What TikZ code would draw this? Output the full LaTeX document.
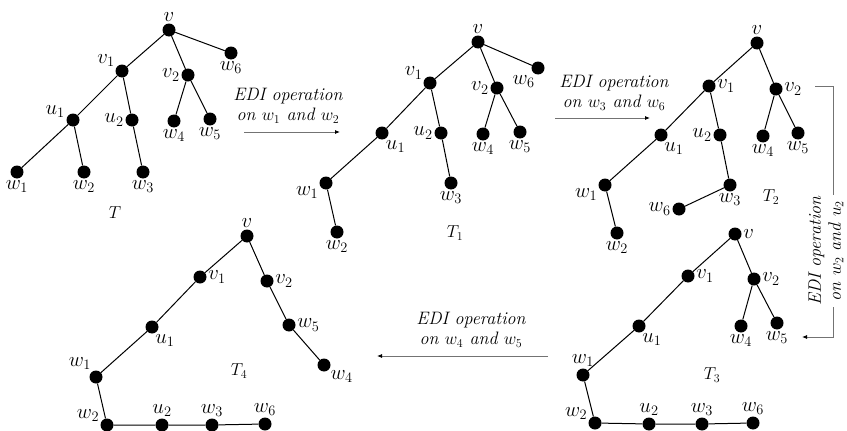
\documentclass[tikz,border=0pt]{standalone}
\usetikzlibrary{arrows.meta}

\begin{document}
\begin{tikzpicture}[x=1pt, y={(0pt,-1pt)}, font=\fontsize{18}{20}\selectfont,
	vtx/.style={circle, fill=black, inner sep=0pt, minimum size=13pt},
	every label/.style={inner sep=0.5pt, font=\fontsize{20}{22}\selectfont},
	label distance=1pt,
	edge/.style={line width=1pt},
	op/.style={draw=black!55, line width=0.8pt, -{Latex[length=5pt,width=4pt,color=black]}},
	optext/.style={font=\fontsize{18}{20}\selectfont\itshape, align=center, inner sep=1pt}]
	\useasboundingbox (0,0) rectangle (847,431);

	% T
	\node[vtx, label=above:$v$] (t0v) at (169,30) {};
	\node[vtx, label=below:$w_6$] (t0w6) at (231,53) {};
	\node[vtx, label=150:$v_1$] (t0v1) at (122,71) {};
	\node[vtx, label=left:$v_2$] (t0v2) at (188,75) {};
	\node[vtx, label=170:$u_1$] (t0u1) at (73,120) {};
	\node[vtx, label=left:$u_2$] (t0u2) at (132,120) {};
	\node[vtx, label=below:$w_4$] (t0w4) at (174,121) {};
	\node[vtx, label=below:$w_5$] (t0w5) at (210,119) {};
	\node[vtx, label=below:$w_1$] (t0w1) at (17,172) {};
	\node[vtx, label=below:$w_2$] (t0w2) at (84,172) {};
	\node[vtx, label=below:$w_3$] (t0w3) at (143,172) {};
	\node (t0) at (115,213) {$T$};
	\draw[edge] (t0w1) -- (t0u1) -- (t0v1) -- (t0v) -- (t0w6);
	\draw[edge] (t0u1) -- (t0w2);
	\draw[edge] (t0v1) -- (t0u2) -- (t0w3);
	\draw[edge] (t0v) -- (t0v2) -- (t0w4);
	\draw[edge] (t0v2) -- (t0w5);

	% T_1
	\node[vtx, label=above:$v$] (t1v) at (478,42) {};
	\node[vtx, label=250:$w_6$] (t1w6) at (538,68) {};
	\node[vtx, label=155:$v_1$] (t1v1) at (430,83) {};
	\node[vtx, label=left:$v_2$] (t1v2) at (497,88) {};
	\node[vtx, label=-65:$u_1$] (t1u1) at (382,133) {};
	\node[vtx, label=left:$u_2$] (t1u2) at (441,133) {};
	\node[vtx, label=below:$w_4$] (t1w4) at (483,134) {};
	\node[vtx, label=below:$w_5$] (t1w5) at (520,132) {};
	\node[vtx, label=200:$w_1$] (t1w1) at (326,183) {};
	\node[vtx, label=below:$w_2$] (t1w2) at (337,232) {};
	\node[vtx, label=below:$w_3$] (t1w3) at (451,183) {};
	\node (t1) at (455,233) {$T_1$};
	\draw[edge] (t1w2) -- (t1w1) -- (t1u1) -- (t1v1) -- (t1v) -- (t1w6);
	\draw[edge] (t1v1) -- (t1u2) -- (t1w3);
	\draw[edge] (t1v) -- (t1v2) -- (t1w4);
	\draw[edge] (t1v2) -- (t1w5);

	% T_2
	\node[vtx, label=above:$v$] (t2v) at (757,43) {};
	\node[vtx, label=right:$v_1$] (t2v1) at (709,86) {};
	\node[vtx, label=right:$v_2$] (t2v2) at (776,89) {};
	\node[vtx, label=-70:$u_1$] (t2u1) at (661,135) {};
	\node[vtx, label=left:$u_2$] (t2u2) at (720,135) {};
	\node[vtx, label=below:$w_4$] (t2w4) at (763,136) {};
	\node[vtx, label=below:$w_5$] (t2w5) at (798,133) {};
	\node[vtx, label=200:$w_1$] (t2w1) at (605,185) {};
	\node[vtx, label=below:$w_2$] (t2w2) at (617,233) {};
	\node[vtx, label=below:$w_3$] (t2w3) at (730,185) {};
	\node[vtx, label=left:$w_6$] (t2w6) at (679,209) {};
	\node (t2) at (771,197) {$T_2$};
	\draw[edge] (t2w2) -- (t2w1) -- (t2u1) -- (t2v1) -- (t2v) -- (t2v2) -- (t2w4);
	\draw[edge] (t2v1) -- (t2u2) -- (t2w3) -- (t2w6);
	\draw[edge] (t2v2) -- (t2w5);

	% T_3
	\node[vtx, label=right:$v$] (t3v) at (735,234) {};
	\node[vtx, label=right:$v_1$] (t3v1) at (688,276) {};
	\node[vtx, label=right:$v_2$] (t3v2) at (754,279) {};
	\node[vtx, label=-70:$u_1$] (t3u1) at (639,326) {};
	\node[vtx, label=below:$w_4$] (t3w4) at (741,326) {};
	\node[vtx, label=below:$w_5$] (t3w5) at (777,323) {};
	\node[vtx, label=above:$w_1$] (t3w1) at (583,375) {};
	\node[vtx, label=160:$w_2$] (t3w2) at (595,423) {};
	\node[vtx, label=above:$u_2$] (t3u2) at (649,424) {};
	\node[vtx, label=above:$w_3$] (t3w3) at (702,424) {};
	\node[vtx, label=above:$w_6$] (t3w6) at (753,423) {};
	\node (t3) at (712,375) {$T_3$};
	\draw[edge] (t3w6) -- (t3w3) -- (t3u2) -- (t3w2) -- (t3w1) -- (t3u1) -- (t3v1) -- (t3v) -- (t3v2) -- (t3w4);
	\draw[edge] (t3v2) -- (t3w5);

	% T_4
	\node[vtx, label=above:$v$] (t4v) at (247,236) {};
	\node[vtx, label=right:$v_1$] (t4v1) at (200,277) {};
	\node[vtx, label=right:$v_2$] (t4v2) at (267,281) {};
	\node[vtx, label=-70:$u_1$] (t4u1) at (152,327) {};
	\node[vtx, label=right:$w_5$] (t4w5) at (289,325) {};
	\node[vtx, label=-40:$w_4$] (t4w4) at (324,365) {};
	\node[vtx, label=125:$w_1$] (t4w1) at (96,377) {};
	\node[vtx, label=160:$w_2$] (t4w2) at (107,425) {};
	\node[vtx, label=above:$u_2$] (t4u2) at (162,425) {};
	\node[vtx, label=above:$w_3$] (t4w3) at (212,425) {};
	\node[vtx, label=above:$w_6$] (t4w6) at (265,424) {};
	\node (t4) at (239,371) {$T_4$};
	\draw[edge] (t4w6) -- (t4w3) -- (t4u2) -- (t4w2) -- (t4w1) -- (t4u1) -- (t4v1) -- (t4v) -- (t4v2) -- (t4w5) -- (t4w4);

	% EDI operations
	\coordinate (op1s) at (244,132);
	\coordinate (op1e) at (340,132);
	\draw[op] (op1s) -- (op1e);
	\node[optext] (op1) at (288,106) {EDI operation\\on $w_1$ and $w_2$};

	\coordinate (op2s) at (555,118);
	\coordinate (op2e) at (650,118);
	\draw[op] (op2s) -- (op2e);
	\node[optext] (op2) at (614,93) {EDI operation\\on $w_3$ and $w_6$};

	\coordinate (op3s) at (815,86);
	\coordinate (op3e) at (802,337);
	\draw[op] (op3s) -- ++(18,0) |- (op3e);
	\node[optext, rotate=90, fill=white] (op3) at (826,251) {EDI operation\\on $w_2$ and $u_2$};

	\coordinate (op4s) at (548,356);
	\coordinate (op4e) at (377,356);
	\draw[op] (op4s) -- (op4e);
	\node[optext] (op4) at (471,330) {EDI operation\\on $w_4$ and $w_5$};
\end{tikzpicture}
\end{document}
